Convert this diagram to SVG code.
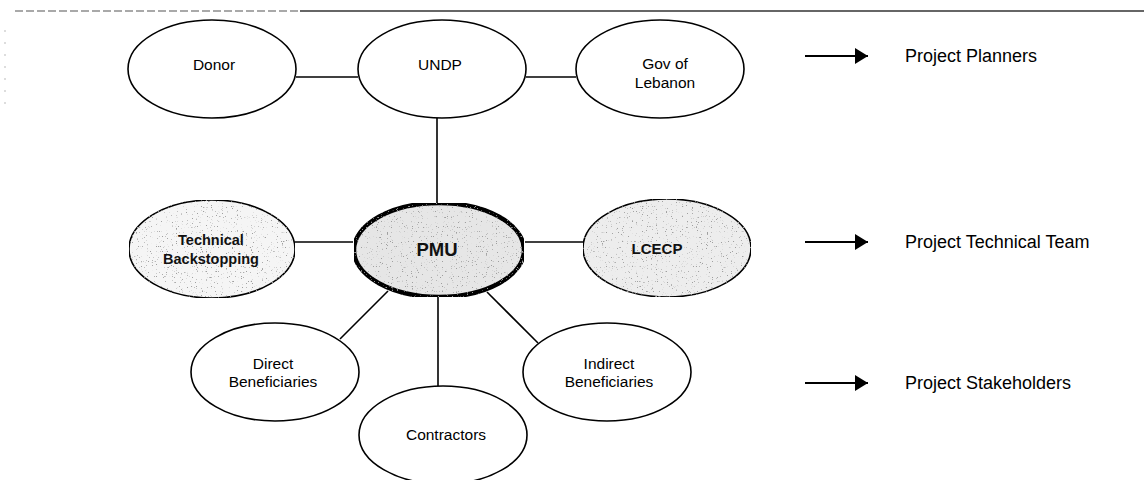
<svg xmlns="http://www.w3.org/2000/svg" width="1144" height="480" viewBox="0 0 1144 480">
<style>
.n{fill:#fff;stroke:#000;stroke-width:1.6}
.g1{fill:#ededed;stroke:#000;stroke-width:1.6}
.g2{fill:#f5f5f5;stroke:#000;stroke-width:1.6}
.pmu{fill:#e6e6e6;stroke:#000;stroke-width:4.5}
.t{font-family:"Liberation Sans",Arial,sans-serif;font-size:15.5px;fill:#000;text-anchor:middle}
.b{font-family:"Liberation Sans",Arial,sans-serif;font-weight:bold;fill:#111;text-anchor:middle}
.lg{font-family:"Liberation Sans",Arial,sans-serif;font-size:18px;fill:#000}
.c line{stroke:#000;stroke-width:1.6}
.a{stroke:#000;stroke-width:2;marker-end:url(#ah)}
</style>
<defs>
<marker id="ah" markerWidth="14" markerHeight="16" refX="13" refY="8" orient="auto" markerUnits="userSpaceOnUse">
<polygon points="0,0 13,8 0,16" fill="#000"/>
</marker>
<filter id="spk" x="0" y="0" width="1" height="1">
<feTurbulence type="fractalNoise" baseFrequency="0.8" numOctaves="1" seed="3" result="n"/>
<feColorMatrix in="n" type="matrix" values="0 0 0 0 0.35  0 0 0 0 0.35  0 0 0 0 0.35  0 0 0 14 -9.2" result="d"/>
<feComposite in="d" in2="SourceGraphic" operator="in" result="dots"/>
<feMerge><feMergeNode in="SourceGraphic"/><feMergeNode in="dots"/></feMerge>
</filter>
</defs>
<rect width="1144" height="480" fill="#fff"/>
<g id="frame">
<line x1="15" y1="11" x2="300" y2="11" stroke="#555" stroke-width="1.2" stroke-dasharray="8 3"/>
<line x1="300" y1="11" x2="1144" y2="11" stroke="#333" stroke-width="1.4"/>
<line x1="5" y1="30" x2="5" y2="112" stroke="#bbb" stroke-width="1" stroke-dasharray="2 10"/>
</g>
<g class="c" id="connectors">
<line x1="296" y1="77" x2="358" y2="77"/>
<line x1="526" y1="77" x2="576" y2="77"/>
<line x1="437" y1="118" x2="437" y2="203"/>
<line x1="295" y1="242" x2="353" y2="242"/>
<line x1="525" y1="242" x2="583" y2="242"/>
<line x1="388" y1="291" x2="340" y2="339"/>
<line x1="438" y1="297" x2="438" y2="386"/>
<line x1="487" y1="292" x2="538" y2="343"/>
</g>
<g id="donor"><ellipse class="n" cx="212" cy="69" rx="84" ry="49"/><text class="t" x="214" y="70">Donor</text></g>
<g id="undp"><ellipse class="n" cx="442" cy="69" rx="84" ry="49"/><text class="t" x="440" y="70">UNDP</text></g>
<g id="gov"><ellipse class="n" cx="660" cy="69" rx="84" ry="49"/><text class="t" x="665" y="69">Gov of</text><text class="t" x="665" y="88">Lebanon</text></g>
<g id="tech"><ellipse class="g2" cx="212" cy="249" rx="83" ry="49" filter="url(#spk)"/><text class="b" x="211" y="245" font-size="14.5">Technical</text><text class="b" x="211" y="264" font-size="14.5">Backstopping</text></g>
<g id="pmu"><ellipse class="pmu" cx="439" cy="250" rx="85" ry="47" filter="url(#spk)"/><text class="b" x="437" y="256" font-size="18.5">PMU</text></g>
<g id="lcecp"><ellipse class="g1" cx="667" cy="248" rx="84" ry="49" filter="url(#spk)"/><text class="b" x="657" y="254" font-size="15">LCECP</text></g>
<g id="direct"><ellipse class="n" cx="275" cy="372" rx="84" ry="49"/><text class="t" x="273" y="369">Direct</text><text class="t" x="273" y="387">Beneficiaries</text></g>
<g id="contractors"><ellipse class="n" cx="443" cy="435" rx="84" ry="49"/><text class="t" x="446" y="440">Contractors</text></g>
<g id="indirect"><ellipse class="n" cx="607" cy="372" rx="84" ry="49"/><text class="t" x="609" y="369">Indirect</text><text class="t" x="609" y="387">Beneficiaries</text></g>
<g id="legend">
<line class="a" x1="805" y1="56" x2="868" y2="56"/>
<text class="lg" x="905" y="62">Project Planners</text>
<line class="a" x1="805" y1="242" x2="868" y2="242"/>
<text class="lg" x="905" y="248">Project Technical Team</text>
<line class="a" x1="805" y1="383" x2="868" y2="383"/>
<text class="lg" x="905" y="389">Project Stakeholders</text>
</g>
</svg>
